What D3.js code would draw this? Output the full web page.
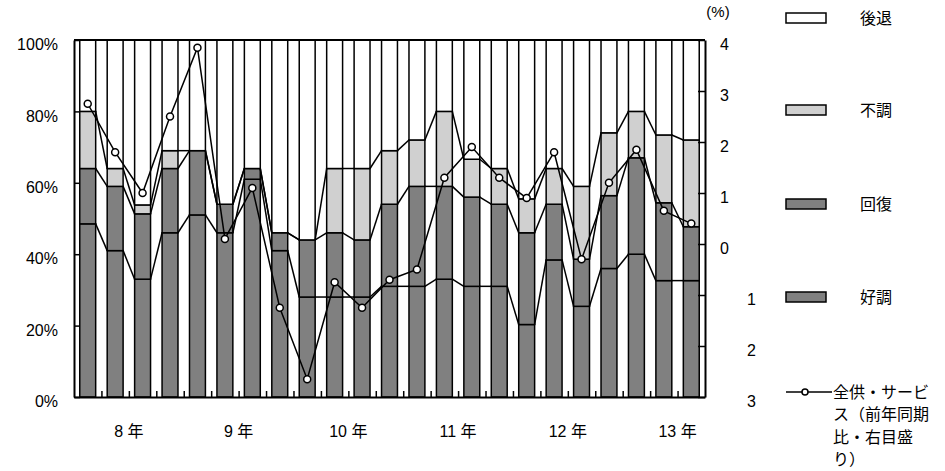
<!DOCTYPE html>
<html lang="ja">
<head>
    <meta charset="UTF-8">
    <title>業況判断の推移</title>
    <script src="https://cdn.jsdelivr.net/npm/d3@7/dist/d3.min.js"></script>
    <style>
        body { margin: 0; background: #fff; }
        text { font-family: "Liberation Sans", Arial, "Noto Sans CJK JP", sans-serif; fill: #000; }
    </style>
</head>
<body>
    <div id="chart"></div>
    <script>
        // 四半期 (8年1-3月 ～ 13年7-9月)
        var quarters = ["8-1","8-2","8-3","8-4","9-1","9-2","9-3","9-4","10-1","10-2","10-3","10-4",
                        "11-1","11-2","11-3","11-4","12-1","12-2","12-3","12-4","13-1","13-2","13-3"];
        var yearLabels = ["8 年","9 年","10 年","11 年","12 年","13 年"];

        // 構成比 (%)
        var kocho   = [48.5, 41, 33, 46, 51, 46, 61, 41, 28, 28, 28, 31, 31, 33, 31, 31, 20.3, 38.4, 25.4, 36, 40, 32.6, 32.6];
        var kaifuku = [15.5, 18, 18.3, 18, 18, 8, 3, 5, 16, 18, 16, 23, 28, 26, 25, 23, 25.7, 15.6, 13.2, 20.4, 27, 21.8, 15.1];
        var fucho   = [16, 5, 2.5, 5, 0, 0, 0, 0, 0, 18, 20, 15, 13, 21, 10.6, 10, 9.5, 10, 20.4, 17.6, 13, 19, 24.3];
        var kotai   = [20, 36, 46.2, 31, 31, 46, 36, 54, 56, 36, 36, 31, 28, 20, 33.4, 36, 44.5, 36, 41, 26, 20, 26.6, 28];

        // 全供・サービス 前年同期比 (%)
        var yoy = [2.75, 1.8, 1.0, 2.5, 3.85, 0.1, 1.1, -1.25, -2.65, -0.75, -1.25, -0.7, -0.5,
                   1.3, 1.9, 1.3, 0.9, 1.8, -0.3, 1.2, 1.85, 0.65, 0.4];

        var leftTicks = [0, 20, 40, 60, 80, 100];
        var rightTicks = [-3, -2, -1, 0, 1, 2, 3, 4];

        var width = 945, height = 471,
            margin = {top: 40, right: 240, bottom: 74, left: 74},
            g_width = width - margin.left - margin.right,
            g_height = height - margin.top - margin.bottom;

        var keys = ["好調", "回復", "不調", "後退"];
        var colors = {"好調": "#808080", "回復": "#808080", "不調": "#d0d0d0", "後退": "#ffffff"};

        var rows = quarters.map(function(q, i) {
            return {q: q, "好調": kocho[i], "回復": kaifuku[i], "不調": fucho[i], "後退": kotai[i]};
        });
        var layers = d3.stack().keys(keys)(rows);

        var svg = d3.select("#chart").append("svg")
            .attr("width", width).attr("height", height);
        var g = svg.append("g")
            .attr("transform", "translate(" + margin.left + "," + margin.top + ")");

        var x = d3.scaleBand().domain(quarters).range([0, g_width])
            .paddingInner(0.42).paddingOuter(0.21);
        var xi = d3.scaleLinear().domain([0, quarters.length]).range([0, g_width]);
        var y = d3.scaleLinear().domain([0, 100]).range([g_height, 0]);
        var y2 = d3.scaleLinear().domain([-3, 4]).range([g_height, 0]);
        var bw = x.bandwidth();

        // 積み上げ棒
        g.selectAll("g.layer").data(layers).enter().append("g")
            .attr("class", "layer")
            .attr("fill", function(d) { return colors[d.key]; })
            .selectAll("rect").data(function(d) { return d; }).enter().append("rect")
            .attr("x", function(d) { return x(d.data.q); })
            .attr("y", function(d) { return y(d[1]); })
            .attr("width", bw)
            .attr("height", function(d) { return y(d[0]) - y(d[1]); })
            .attr("stroke", "#000")
            .attr("stroke-width", 1.5);

        // 区分線
        layers.slice(0, 3).forEach(function(layer) {
            for (var i = 0; i < layer.length - 1; i++) {
                g.append("line")
                    .attr("x1", x(quarters[i]) + bw).attr("y1", y(layer[i][1]))
                    .attr("x2", x(quarters[i + 1])).attr("y2", y(layer[i + 1][1]))
                    .attr("stroke", "#000").attr("stroke-width", 1.5);
            }
        });

        // 枠上辺
        g.append("line").attr("x1", 0).attr("x2", g_width).attr("y1", 0).attr("y2", 0)
            .attr("stroke", "#000").attr("stroke-width", 2);

        // 左軸
        var ya = g.append("g")
            .call(d3.axisLeft(y).tickValues(leftTicks).tickSize(-6).tickSizeOuter(0)
                .tickPadding(16).tickFormat(function(d) { return d + "%"; }));
        // 右軸
        var yb = g.append("g").attr("transform", "translate(" + g_width + ",0)")
            .call(d3.axisRight(y2).tickValues(rightTicks).tickSize(-7).tickSizeOuter(0)
                .tickPadding(15).tickFormat(function(d) { return Math.abs(d); }));
        yb.selectAll(".tick").filter(function(d) { return d < 0; })
            .select("text").attr("x", 42);
        // 下軸
        var xa = g.append("g").attr("transform", "translate(0," + g_height + ")")
            .call(d3.axisBottom(xi).tickValues(d3.range(1, quarters.length))
                .tickSize(-6).tickSizeOuter(0).tickFormat(""));

        [ya, yb, xa].forEach(function(ax) {
            ax.select(".domain").attr("stroke-width", 2);
            ax.selectAll(".tick line").attr("stroke-width", 1.5);
            ax.selectAll("text").attr("font-size", 16).attr("dy", "0.6em");
        });

        g.append("text").attr("x", g_width + 13).attr("y", -23)
            .attr("text-anchor", "middle").attr("font-size", 15).text("(%)");

        // 年ラベル
        g.selectAll("text.year").data(yearLabels).enter().append("text")
            .attr("class", "year")
            .attr("x", function(d, j) { return xi(4 * j + 2); })
            .attr("y", g_height + 34)
            .attr("dy", "0.35em")
            .attr("text-anchor", "middle")
            .attr("font-size", 16)
            .text(function(d) { return d; });

        // 折れ線
        var line = d3.line()
            .x(function(d, i) { return x(quarters[i]) + bw / 2; })
            .y(function(d) { return y2(d); });
        g.append("path").attr("d", line(yoy))
            .attr("fill", "none").attr("stroke", "#000").attr("stroke-width", 1.5);
        g.selectAll("circle.pt").data(yoy).enter().append("circle")
            .attr("class", "pt")
            .attr("cx", function(d, i) { return x(quarters[i]) + bw / 2; })
            .attr("cy", function(d) { return y2(d); })
            .attr("r", 3.5)
            .attr("fill", "#fff").attr("stroke", "#000").attr("stroke-width", 1.5);

        // 凡例
        var legendY = {"後退": 18, "不調": 110, "回復": 204, "好調": 297};
        ["後退", "不調", "回復", "好調"].forEach(function(k) {
            svg.append("rect").attr("x", 786).attr("y", legendY[k] - 5)
                .attr("width", 40).attr("height", 10)
                .attr("fill", colors[k]).attr("stroke", "#000").attr("stroke-width", 1.5);
            svg.append("text").attr("x", 860).attr("y", legendY[k]).attr("dy", "0.35em")
                .attr("font-size", 16).text(k);
        });
        svg.append("line").attr("x1", 786).attr("x2", 832).attr("y1", 392).attr("y2", 392)
            .attr("stroke", "#000").attr("stroke-width", 1.5);
        svg.append("circle").attr("cx", 805).attr("cy", 392).attr("r", 3)
            .attr("fill", "#fff").attr("stroke", "#000").attr("stroke-width", 1.5);
        var lineLabel = ["全供・サービ", "ス（前年同期", "比・右目盛", "り）"];
        svg.append("text").attr("font-size", 16)
            .selectAll("tspan").data(lineLabel).enter().append("tspan")
            .attr("x", 833)
            .attr("y", function(d, i) { return 392 + i * 22.5; })
            .attr("dy", "0.35em")
            .text(function(d) { return d; });
    </script>
</body>
</html>
